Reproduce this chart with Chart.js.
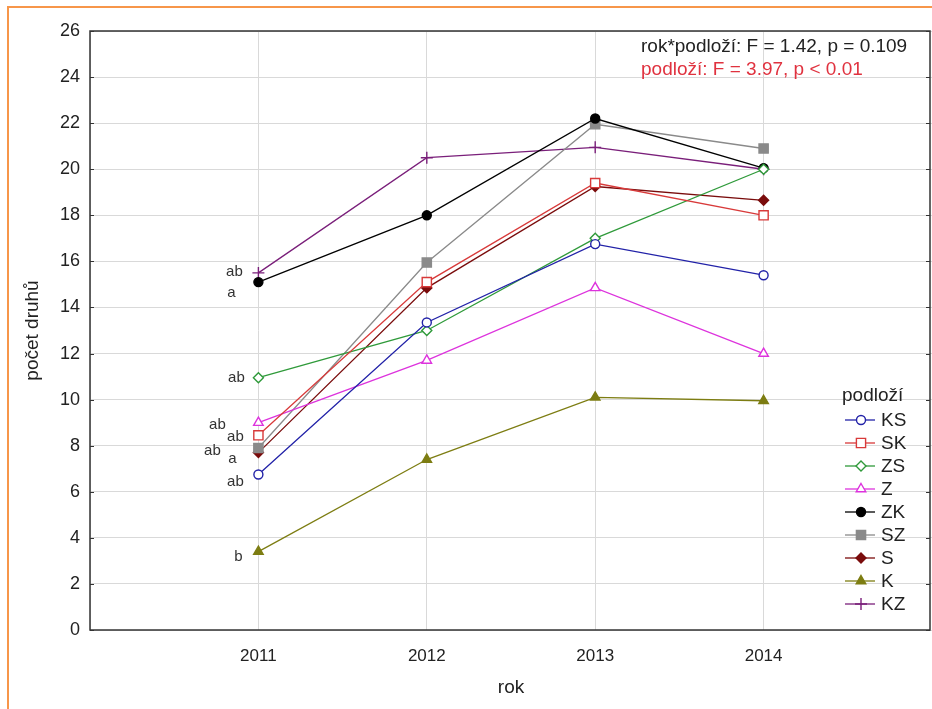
<!DOCTYPE html>
<html lang="cs">
<head>
<meta charset="UTF-8">
<title>Počet druhů podle roku a podloží</title>
<script src="https://cdn.jsdelivr.net/npm/chart.js"></script>
<style>
  html, body { margin: 0; padding: 0; background: #fff; }
  #wrap { position: relative; width: 932px; height: 709px; }
</style>
</head>
<body>
<div id="wrap"><canvas id="chart" width="932" height="709"></canvas></div>
<script>
// průměrný počet druhů podle roku a typu podloží
const years = [2011, 2012, 2013, 2014];
const yTicks = [0, 2, 4, 6, 8, 10, 12, 14, 16, 18, 20, 22, 24, 26];

const KS = [6.75, 13.35, 16.75, 15.4];
const SK = [8.45, 15.1, 19.4, 18.0];
const ZS = [10.95, 13.0, 17.0, 20.0];
const Z  = [9.0, 11.7, 14.85, 12.0];
const ZK = [15.1, 18.0, 22.2, 20.05];
const SZ = [7.9, 15.95, 21.95, 20.9];
const S  = [7.7, 14.85, 19.25, 18.65];
const K  = [3.4, 7.4, 10.1, 9.95];
const KZ = [15.5, 20.5, 20.95, 20.0];

const seriesNames = ['KS', 'SK', 'ZS', 'Z', 'ZK', 'SZ', 'S', 'K', 'KZ'];
const seriesValues = [KS, SK, ZS, Z, ZK, SZ, S, K, KZ];

// písmena homogenních skupin u roku 2011
const letters2011 = ['ab', 'ab', 'ab', 'ab', 'a', 'ab', 'a', 'b', 'ab'];

const statLines = ['rok*podloží: F = 1.42, p = 0.109', 'podloží: F = 3.97, p < 0.01'];

// vzhled řad
const styles = [
  { color: '#2222a8', style: 'circle',   radius: 4.5, fill: '#fff' },
  { color: '#d83a3a', style: 'rect',     radius: 6.5, fill: '#fff' },
  { color: '#2f9a3a', style: 'rectRot',  radius: 5,   fill: '#fff' },
  { color: '#dd33dd', style: 'triangle', radius: 5.5, fill: '#fff' },
  { color: '#000000', style: 'circle',   radius: 4.5, fill: '#000' },
  { color: '#8a8a8a', style: 'rect',     radius: 6.5, fill: '#8a8a8a' },
  { color: '#7a0c0c', style: 'rectRot',  radius: 5,   fill: '#7a0c0c' },
  { color: '#7d7d12', style: 'triangle', radius: 5.5, fill: '#7d7d12' },
  { color: '#7a1f7a', style: 'cross',    radius: 6,   fill: '#7a1f7a' }
];
// posun popisků písmen vůči bodu (px)
const letterOffsets = [
  [-23, 7], [-23, 2], [-22, 0], [-41, 2], [-27, 11], [-46, 3], [-26, 6], [-20, 5], [-24, -1]
];

const FONT = 'Liberation Sans, Arial, sans-serif';

const datasets = seriesNames.map((name, i) => ({
  label: name,
  data: years.map((yr, j) => ({ x: yr, y: seriesValues[i][j] })),
  borderColor: styles[i].color,
  backgroundColor: styles[i].fill,
  borderWidth: 1.3,
  pointStyle: styles[i].style,
  pointRadius: styles[i].radius,
  pointBorderWidth: 1.4,
  pointBackgroundColor: styles[i].fill,
  pointBorderColor: styles[i].color,
  tension: 0
}));

const decorations = {
  id: 'decorations',
  beforeDraw(chart) {
    const ctx = chart.ctx;
    ctx.save();
    ctx.strokeStyle = '#f7964a';
    ctx.lineWidth = 2;
    ctx.beginPath();
    ctx.moveTo(8, chart.height);
    ctx.lineTo(8, 7);
    ctx.lineTo(chart.width, 7);
    ctx.stroke();
    ctx.restore();
  },
  beforeDatasetsDraw(chart) {
    const ctx = chart.ctx;
    const a = chart.chartArea;
    const ys = chart.scales.y;
    ctx.save();
    ctx.strokeStyle = '#333';
    ctx.lineWidth = 1.5;
    ctx.strokeRect(a.left, a.top, a.right - a.left - 2, a.bottom - a.top);
    ctx.lineWidth = 1;
    ctx.beginPath();
    yTicks.forEach(v => {
      const py = Math.round(ys.getPixelForValue(v)) + 0.5;
      ctx.moveTo(a.left, py); ctx.lineTo(a.left + 4, py);
      ctx.moveTo(a.right - 6, py); ctx.lineTo(a.right - 2, py);
    });
    ctx.stroke();
    ctx.restore();
  },
  afterDatasetsDraw(chart) {
    const ctx = chart.ctx;
    ctx.save();

    // písmena u prvního roku
    ctx.font = '15px ' + FONT;
    ctx.fillStyle = '#333';
    ctx.textAlign = 'center';
    ctx.textBaseline = 'middle';
    seriesNames.forEach((name, i) => {
      const pt = chart.getDatasetMeta(i).data[0];
      ctx.fillText(letters2011[i], pt.x + letterOffsets[i][0], pt.y + letterOffsets[i][1]);
    });

    // statistika
    ctx.font = '19px ' + FONT;
    ctx.textAlign = 'left';
    ctx.fillStyle = '#222';
    ctx.fillText(statLines[0], 641, 47);
    ctx.fillStyle = '#e0323f';
    ctx.fillText(statLines[1], 641, 70);

    // legenda
    const lx = 845, ly = 420, step = 23;
    ctx.fillStyle = '#222';
    ctx.fillText('podloží', 842, 396);
    seriesNames.forEach((name, i) => {
      const y = ly + i * step;
      const st = styles[i];
      ctx.strokeStyle = st.color;
      ctx.lineWidth = 1.3;
      ctx.beginPath();
      ctx.moveTo(lx, y); ctx.lineTo(lx + 30, y);
      ctx.stroke();
      ctx.fillStyle = st.fill;
      ctx.lineWidth = 1.4;
      Chart.helpers.drawPoint(ctx, { pointStyle: st.style, radius: st.radius, rotation: 0, borderWidth: 1.4 }, lx + 16, y);
      ctx.fillStyle = '#222';
      ctx.fillText(name, lx + 36, y + 1);
    });
    ctx.restore();
  }
};

new Chart(document.getElementById('chart'), {
  type: 'line',
  data: { datasets },
  options: {
    responsive: false,
    animation: false,
    layout: { autoPadding: false, padding: { top: 31, right: 0, left: 0, bottom: 0 } },
    plugins: { legend: { display: false }, tooltip: { enabled: false } },
    scales: {
      x: {
        type: 'linear',
        min: 2010,
        max: 2015,
        afterFit(scale) { scale.height = 79; scale.paddingRight = 0; scale.paddingLeft = 0; },
        afterBuildTicks(scale) { scale.ticks = [2010, 2011, 2012, 2013, 2014, 2015].map(v => ({ value: v })); },
        ticks: {
          callback: v => (v >= years[0] && v <= years[years.length - 1]) ? String(v) : '',
          font: { family: FONT, size: 17 },
          color: '#222',
          padding: 16,
          maxRotation: 0
        },
        grid: { color: '#d9d9d9', drawTicks: false },
        border: { display: false },
        title: { display: true, text: 'rok', font: { family: FONT, size: 19 }, color: '#222', padding: { top: 0, bottom: 10 } }
      },
      y: {
        min: 0,
        max: 26,
        afterFit(scale) { scale.width = 90; scale.paddingTop = 0; scale.paddingBottom = 0; },
        afterBuildTicks(scale) { scale.ticks = yTicks.map(v => ({ value: v })); },
        ticks: { font: { family: FONT, size: 18 }, color: '#222', padding: 10 },
        grid: { color: '#d9d9d9', drawTicks: false },
        border: { display: false },
        title: { display: true, text: 'počet druhů', font: { family: FONT, size: 19 }, color: '#222', padding: { top: 21, bottom: 0 } }
      }
    }
  },
  plugins: [decorations]
});
</script>
</body>
</html>
